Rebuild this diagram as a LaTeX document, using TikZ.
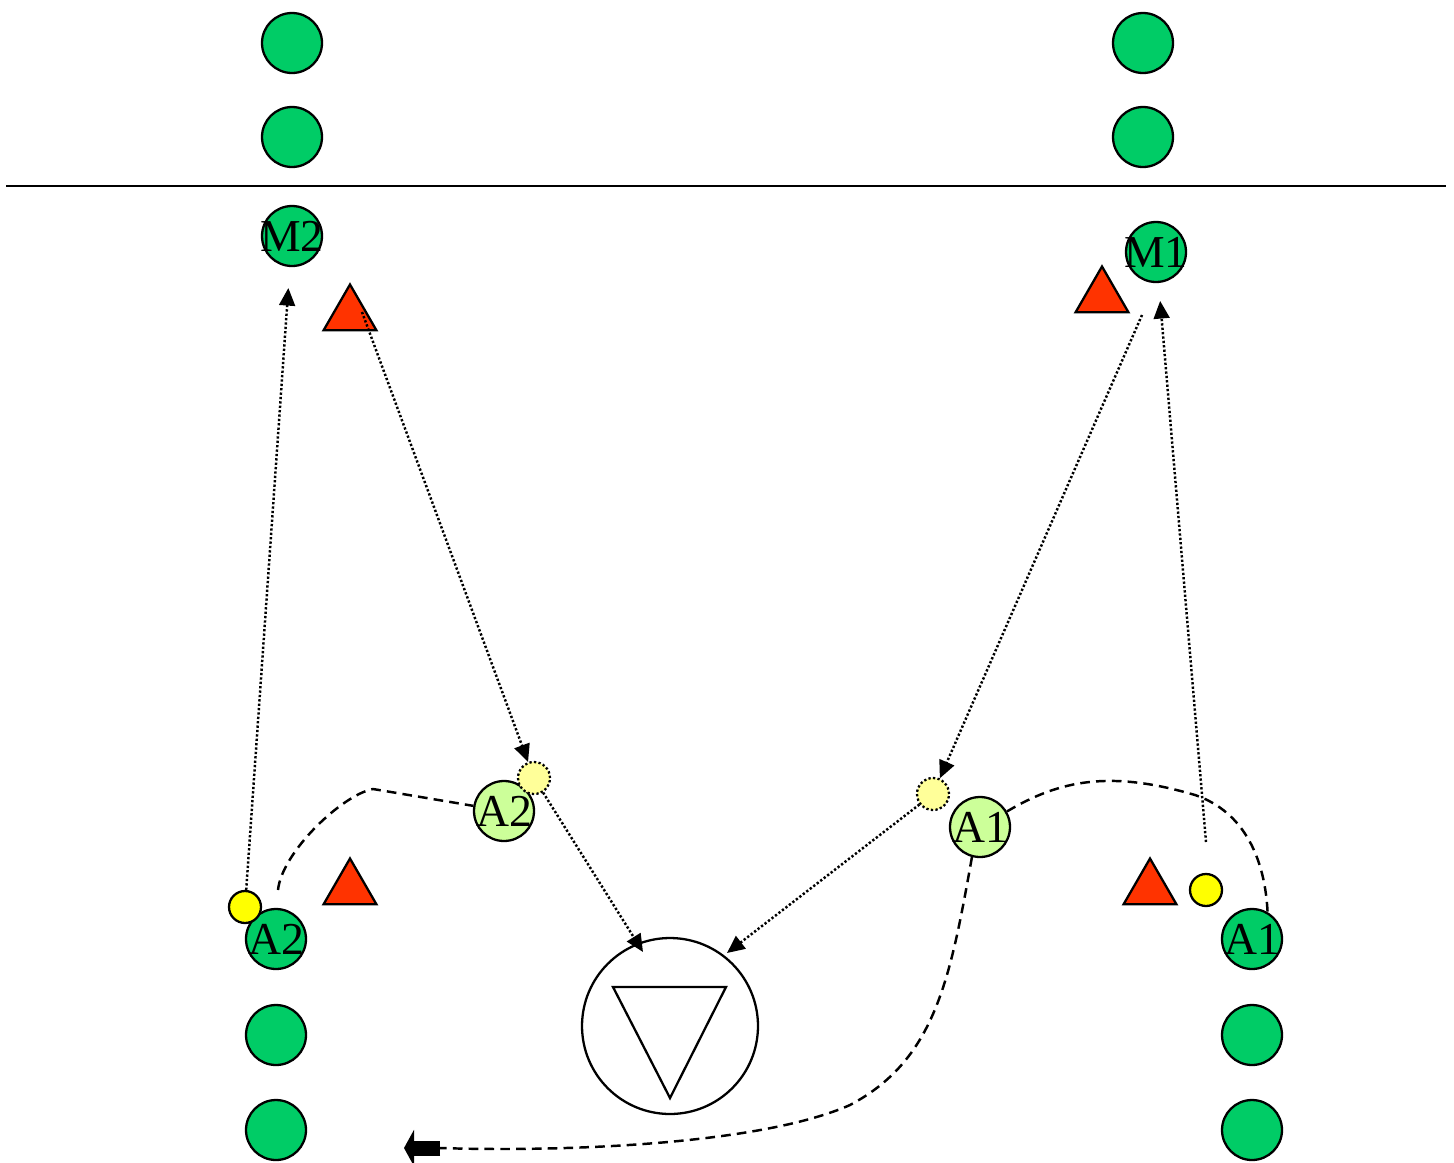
\documentclass[tikz,border=0pt]{standalone}
\usepackage{fontspec}
\setmainfont{Liberation Serif}
\usetikzlibrary{shapes.geometric,arrows.meta}
\definecolor{playergreen}{HTML}{00CC66}
\definecolor{runnergreen}{HTML}{CCFF99}
\definecolor{conered}{HTML}{FF3300}
\definecolor{ballyellow}{HTML}{FFFF00}
\definecolor{ghostyellow}{HTML}{FFFF99}
\begin{document}
\begin{tikzpicture}[x=0.02cm,y=-0.02cm,
    player/.style={shape=circle,draw=black,line width=1.3pt,fill=playergreen,minimum size=1.2cm,inner sep=0pt,font=\fontsize{26}{26}\selectfont},
    runner/.style={player,fill=runnergreen},
    cone/.style={regular polygon,regular polygon sides=3,draw=black,line width=1.3pt,fill=conered,minimum size=1.22cm,inner sep=0pt},
    ball/.style={shape=circle,draw=black,line width=1.3pt,fill=ballyellow,minimum size=0.64cm,inner sep=0pt},
    ghost/.style={ball,fill=ghostyellow,dash pattern=on 1.3pt off 1.3pt},
    passline/.style={line width=1.4pt,dash pattern=on 1.3pt off 1.2pt,-{Triangle[length=10pt,width=9pt]}},
    runline/.style={line width=1.4pt,dash pattern=on 5.5pt off 3.5pt}]
  \useasboundingbox (0,0) rectangle (1454,1163);

  % halfway line
  \draw[line width=1.3pt] (6,186) -- (1446,186);

  % players
  \node[player] (l1) at (292,43) {};
  \node[player] (l2) at (292,137) {};
  \node[player] (m2) at (292,236) {\makebox[0pt]{M2}};
  \node[player] (r1) at (1143,43) {};
  \node[player] (r2) at (1143,137) {};
  \node[player] (m1) at (1156,252) {\makebox[0pt]{M1}};
  \node[player] (a2) at (276,939) {\makebox[0pt]{A2}};
  \node[player] (q2) at (276,1035) {};
  \node[player] (q3) at (276,1130) {};
  \node[player] (a1) at (1252,939) {\makebox[0pt]{A1}};
  \node[player] (p2) at (1252,1035) {};
  \node[player] (p3) at (1252,1130) {};
  \node[runner] (ra2) at (504,811) {\makebox[0pt]{A2}};
  \node[runner] (ra1) at (980,827) {\makebox[0pt]{A1}};

  % cones
  \node[cone] (c1) at (350,315) {};
  \node[cone] (c2) at (1102,297) {};
  \node[cone] (c3) at (350,889) {};
  \node[cone] (c4) at (1150,889) {};

  % balls
  \node[ball] (b2) at (245,907) {};
  \node[ball] (b1) at (1206,890) {};
  \node[ghost] (g2) at (534,778) {};
  \node[ghost] (g1) at (933,794) {};

  % goal
  \node[shape=circle,draw=black,line width=1.3pt,minimum size=3.52cm] (goal) at (670,1026) {};
  \draw[line width=1.3pt,line join=miter] (613,987) -- (726,987) -- (670,1098) -- cycle;

  \coordinate (c1s) at (362,312);
  \coordinate (m1s) at (1142,315);
  \coordinate (b1s) at (1206,842);
  \coordinate (a2s) at (278,890);
  \coordinate (gl) at (643,952);
  \coordinate (gr) at (727,953);
  \coordinate (exitT) at (440,1148);
  \coordinate (exitH) at (404,1148);

  % passes
  \draw[passline,shorten >=0.42cm] (b2) -- (m2);
  \draw[passline] (c1s) -- (g2);
  \draw[passline] (g2) -- (gl);
  \draw[passline] (m1s) -- (g1);
  \draw[passline] (g1) -- (gr);
  \draw[passline,shorten >=0.36cm] (b1s) -- (m1);

  % runs
  \draw[runline] (a2s) .. controls (282,852) and (342,795) .. (373,789) -- (ra2);
  \draw[runline] (ra1.30) .. controls (1060,780) and (1110,770) .. (1195,795)
    .. controls (1245,812) and (1265,860) .. (a1.60);
  \draw[runline] (ra1.-105) .. controls (950,980) and (935,1060) .. (850,1105)
    .. controls (760,1145) and (560,1152) .. (exitT);
  \draw[line width=0.3cm,-{Triangle[length=0.2cm,width=0.72cm]}] (exitT) -- (exitH);
\end{tikzpicture}
\end{document}
